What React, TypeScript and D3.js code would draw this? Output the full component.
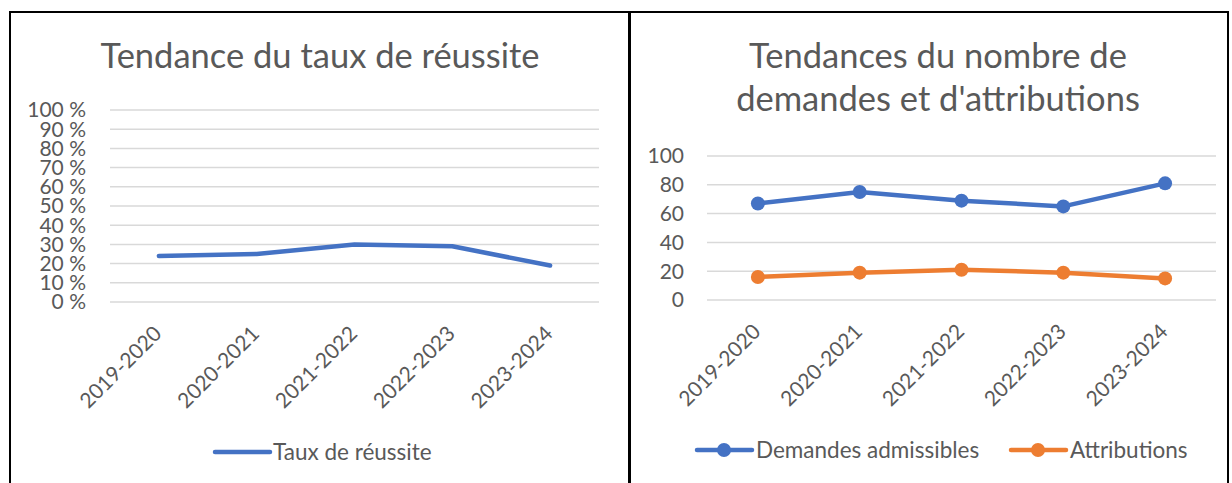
import React from 'react';
import * as d3 from 'd3';

// data
const years = ['2019-2020', '2020-2021', '2021-2022', '2022-2023', '2023-2024'];
const tauxReussite = [0.24, 0.25, 0.30, 0.29, 0.19];
const demandesAdmissibles = [67, 75, 69, 65, 81];
const attributions = [16, 19, 21, 19, 15];
const pctTicks = [0, 0.1, 0.2, 0.3, 0.4, 0.5, 0.6, 0.7, 0.8, 0.9, 1];
const countTicks = [0, 20, 40, 60, 80, 100];

const BLUE = '#4472C4';
const ORANGE = '#ED7D31';
const GRID = '#D9D9D9';
const TEXT = '#595959';
const FONT = "Lato, 'Noto Sans', sans-serif";
const LABEL_SIZE = 21;
const LEGEND_SIZE = 22.5;
const TITLE_SIZE = 34.5;

const pctFormat = (v: number) => `${Math.round(v * 100)}\u00a0%`;

const XLabels = ({ x, y0 }: { x: d3.ScaleBand<string>; y0: number }) => (
  <g>
    {years.map(d => (
      <text
        key={d}
        transform={`translate(${(x(d) as number) + x.bandwidth() / 2 + 4},${y0 + 33}) rotate(-45)`}
        textAnchor="end"
        fontSize={LABEL_SIZE}
        fill={TEXT}
      >
        {d}
      </text>
    ))}
  </g>
);

const App = () => {
  // left chart: taux de réussite
  const xL = d3.scaleBand<string>().domain(years).range([110, 599]).padding(0);
  const yL = d3.scaleLinear().domain([0, 1]).range([302, 110]);
  const lineL = d3.line<number>()
    .x((d, i) => (xL(years[i]) as number) + xL.bandwidth() / 2)
    .y(d => yL(d));

  // right chart: demandes et attributions
  const xR = d3.scaleBand<string>().domain(years).range([707, 1216]).padding(0);
  const yR = d3.scaleLinear().domain([0, 100]).range([300, 156]);
  const lineR = d3.line<number>()
    .x((d, i) => (xR(years[i]) as number) + xR.bandwidth() / 2)
    .y(d => yR(d));

  const seriesR = [
    { name: 'Demandes admissibles', values: demandesAdmissibles, color: BLUE },
    { name: 'Attributions', values: attributions, color: ORANGE },
  ];

  return (
    <svg
      width={1232}
      height={483}
      style={{ position: 'absolute', left: 0, top: 0, background: '#fff' }}
      fontFamily={FONT}
    >
      {/* frames */}
      <g stroke="#000" fill="none">
        <line x1={10} y1={12} x2={10} y2={483} strokeWidth={2} />
        <line x1={9} y1={12} x2={1229} y2={12} strokeWidth={2} />
        <line x1={629.5} y1={11} x2={629.5} y2={483} strokeWidth={3} />
        <line x1={1228} y1={11} x2={1228} y2={483} strokeWidth={2} />
      </g>

      {/* ---------- left chart ---------- */}
      <text x={320} y={68} textAnchor="middle" fontSize={TITLE_SIZE} fill={TEXT}>
        Tendance du taux de réussite
      </text>
      <g>
        {pctTicks.map(t => (
          <g key={t}>
            <line x1={110} x2={599} y1={yL(t)} y2={yL(t)} stroke={GRID} strokeWidth={1.5} />
            <text x={86} y={yL(t)} dy="0.35em" textAnchor="end" fontSize={LABEL_SIZE} fill={TEXT}>
              {pctFormat(t)}
            </text>
          </g>
        ))}
      </g>
      <path
        d={lineL(tauxReussite) as string}
        fill="none"
        stroke={BLUE}
        strokeWidth={4.5}
        strokeLinecap="round"
        strokeLinejoin="round"
      />
      <XLabels x={xL} y0={302} />
      <g>
        <line x1={215} x2={270} y1={452} y2={452} stroke={BLUE} strokeWidth={4.5} strokeLinecap="round" />
        <text x={273} y={452} dy="0.35em" fontSize={LEGEND_SIZE} fill={TEXT}>Taux de réussite</text>
      </g>

      {/* ---------- right chart ---------- */}
      <text textAnchor="middle" fontSize={TITLE_SIZE} fill={TEXT}>
        <tspan x={938} y={68}>Tendances du nombre de</tspan>
        <tspan x={938} y={111}>demandes et d'attributions</tspan>
      </text>
      <g>
        {countTicks.map(t => (
          <g key={t}>
            <line x1={707} x2={1216} y1={yR(t)} y2={yR(t)} stroke={GRID} strokeWidth={1.5} />
            <text x={684} y={yR(t)} dy="0.35em" textAnchor="end" fontSize={LABEL_SIZE} fill={TEXT}>
              {t}
            </text>
          </g>
        ))}
      </g>
      {seriesR.map(s => (
        <g key={s.name}>
          <path
            d={lineR(s.values) as string}
            fill="none"
            stroke={s.color}
            strokeWidth={4.5}
            strokeLinecap="round"
            strokeLinejoin="round"
          />
          {s.values.map((v, i) => (
            <circle
              key={i}
              cx={(xR(years[i]) as number) + xR.bandwidth() / 2}
              cy={yR(v)}
              r={7}
              fill={s.color}
            />
          ))}
        </g>
      ))}
      <XLabels x={xR} y0={300} />
      <g>
        <line x1={697} x2={752} y1={450} y2={450} stroke={BLUE} strokeWidth={4.5} strokeLinecap="round" />
        <circle cx={724} cy={450} r={7} fill={BLUE} />
        <text x={756} y={450} dy="0.35em" fontSize={LEGEND_SIZE} fill={TEXT}>Demandes admissibles</text>
        <line x1={1011} x2={1066} y1={450} y2={450} stroke={ORANGE} strokeWidth={4.5} strokeLinecap="round" />
        <circle cx={1038} cy={450} r={7} fill={ORANGE} />
        <text x={1070} y={450} dy="0.35em" fontSize={LEGEND_SIZE} fill={TEXT}>Attributions</text>
      </g>
    </svg>
  );
};

export default App;
